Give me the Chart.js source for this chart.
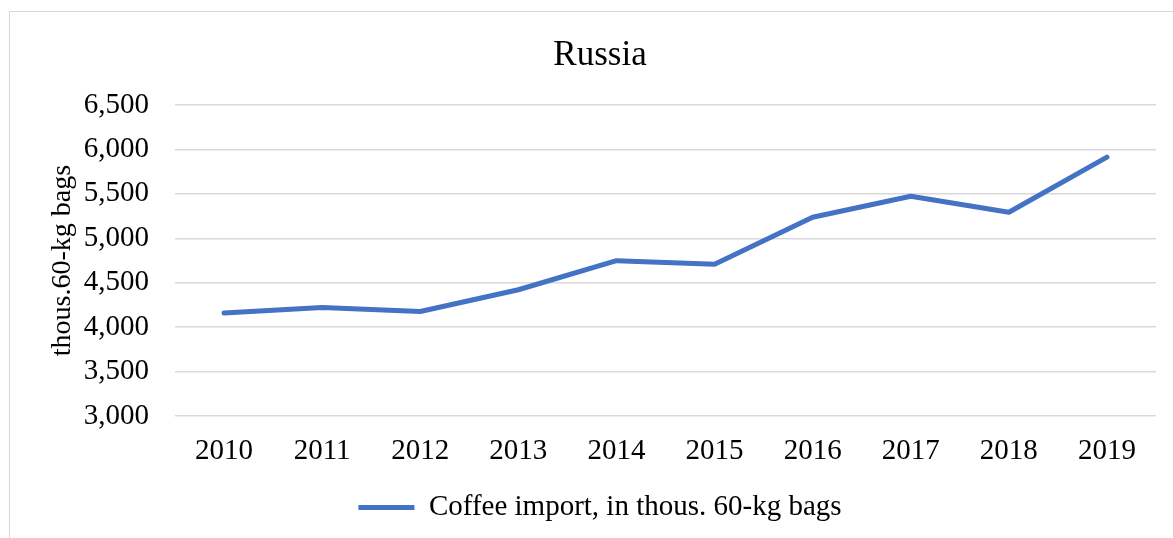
<!DOCTYPE html>
<html>
<head>
<meta charset="utf-8">
<title>Russia - Coffee import</title>
<script src="https://cdn.jsdelivr.net/npm/chart.js@4/dist/chart.umd.min.js"></script>
<style>
    html, body { margin: 0; padding: 0; background: #fff; overflow: hidden; }
    #frame {
        position: absolute; left: 9px; top: 11px;
        width: 1300px; height: 700px;
        border: 1px solid #d9d9d9;
    }
    #wrap { position: absolute; left: 0; top: 0; width: 1173px; height: 538px; }
</style>
</head>
<body>
<div id="frame"></div>
<div id="wrap"><canvas id="importChart" width="1173" height="538"></canvas></div>
<script>
// Coffee import to Russia, thous. 60-kg bags
const years = ['2010', '2011', '2012', '2013', '2014', '2015', '2016', '2017', '2018', '2019'];
const importValues = [4158, 4221, 4176, 4421, 4748, 4708, 5237, 5473, 5293, 5913];
const yTicks = [3000, 3500, 4000, 4500, 5000, 5500, 6000, 6500];

const seriesLabel = 'Coffee import, in thous. 60-kg bags';
const lineColor = '#4472C4';
const serif = "'Liberation Serif', 'Times New Roman', serif";

Chart.defaults.font.family = serif;
Chart.defaults.color = '#000';

new Chart(document.getElementById('importChart'), {
    type: 'line',
    data: {
        labels: years,
        datasets: [{
            label: seriesLabel,
            data: importValues,
            borderColor: lineColor,
            backgroundColor: lineColor,
            borderWidth: 5,
            borderCapStyle: 'round',
            borderJoinStyle: 'round',
            pointRadius: 0,
            tension: 0,
            fill: false
        }]
    },
    options: {
        responsive: false,
        animation: false,
        layout: { padding: { left: 44, right: 17, top: 0, bottom: 6 } },
        plugins: {
            title: {
                display: true,
                text: 'Russia',
                font: { size: 35, weight: 'normal' },
                color: '#000',
                padding: { top: 35, bottom: 28 }
            },
            legend: {
                position: 'bottom',
                labels: {
                    usePointStyle: true,
                    pointStyle: 'line',
                    pointStyleWidth: 56,
                    font: { size: 29 },
                    color: '#000',
                    padding: 10
                }
            },
            tooltip: { enabled: false }
        },
        scales: {
            x: {
                offset: true,
                grid: { display: false, drawTicks: false },
                border: { display: false },
                ticks: { font: { size: 29 }, padding: 18, maxRotation: 0 },
                afterFit: scale => { scale.height = 67; }
            },
            y: {
                min: yTicks[0],
                max: yTicks[yTicks.length - 1],
                afterBuildTicks: scale => { scale.ticks = yTicks.map(v => ({ value: v })); },
                grid: { color: '#d9d9d9', lineWidth: 1.5, drawTicks: false },
                border: { display: false },
                ticks: {
                    font: { size: 29 },
                    padding: 26,
                    callback: v => v.toLocaleString('en-US')
                },
                title: {
                    display: true,
                    text: 'thous.60-kg bags',
                    font: { size: 28 },
                    color: '#000',
                    padding: { top: 2, bottom: 0 }
                },
                afterFit: scale => { scale.width = 131; }
            }
        }
    }
});
</script>
</body>
</html>
